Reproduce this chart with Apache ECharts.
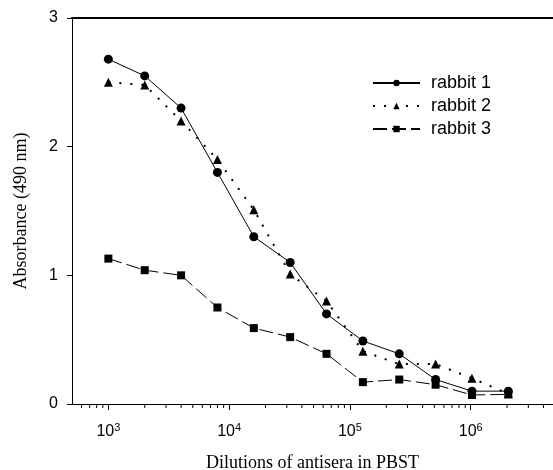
<!DOCTYPE html>
<html>
<head>
<meta charset="utf-8">
<script src="https://cdn.jsdelivr.net/npm/echarts@6/dist/echarts.min.js"></script>
<style>
html,body{margin:0;padding:0;background:#fff;}
#chart{width:553px;height:470px;}
</style>
</head>
<body>
<div id="chart"></div>
<script>
const dilutions = [1000, 2000, 4000, 8000, 16000, 32000, 64000, 128000, 256000, 512000, 1024000, 2048000];
const rabbit1 = [2.68, 2.55, 2.30, 1.80, 1.30, 1.10, 0.70, 0.49, 0.39, 0.19, 0.10, 0.10];
const rabbit2 = [2.50, 2.48, 2.20, 1.90, 1.51, 1.01, 0.80, 0.41, 0.31, 0.31, 0.20, 0.08];
const rabbit3 = [1.13, 1.04, 1.00, 0.75, 0.59, 0.52, 0.39, 0.17, 0.19, 0.15, 0.07, 0.075];
const seriesNames = ['rabbit 1', 'rabbit 2', 'rabbit 3'];
const yTicks = [0, 1, 2, 3];
const majorTicks = [1000, 10000, 100000, 1000000];
const minorTicks = [600, 700, 800, 900,
  2000, 3000, 4000, 5000, 6000, 7000, 8000, 9000,
  20000, 30000, 40000, 50000, 60000, 70000, 80000, 90000,
  200000, 300000, 400000, 500000, 600000, 700000, 800000, 900000,
  2000000, 3000000, 4000000];

const sans = '"Liberation Sans", Arial, sans-serif';
const serif = '"Liberation Serif", "Times New Roman", serif';

function pair(arr) { return dilutions.map((d, i) => [d, arr[i]]); }

const chart = echarts.init(document.getElementById('chart'));
chart.setOption({
  animation: false,
  backgroundColor: '#fff',
  grid: { left: 72, top: 18, right: 0, bottom: 66, containLabel: false, outerBoundsMode: 'none' },
  legend: {
    orient: 'vertical',
    left: 372,
    top: 74,
    padding: 0,
    itemWidth: 47,
    itemHeight: 8,
    itemGap: 5,
    data: seriesNames,
    textStyle: { fontFamily: sans, fontSize: 18, lineHeight: 18, color: '#000', padding: [0, 0, 0, 6] }
  },
  xAxis: [{
    type: 'log',
    logBase: 10,
    min: 500,
    max: 4800000,
    name: 'Dilutions of antisera in PBST',
    nameLocation: 'middle',
    nameGap: 50,
    nameTextStyle: { fontFamily: serif, fontSize: 18, color: '#000' },
    axisLine: { lineStyle: { color: '#000', width: 1 } },
    axisTick: { show: true, inside: false, length: 6, lineStyle: { color: '#000' } },
    splitLine: { show: false },
    axisLabel: {
      margin: 18,
      fontFamily: sans, fontSize: 16, color: '#000',
      showMinLabel: false, showMaxLabel: false,
      formatter: function (v) {
        const e = Math.round(Math.log10(v));
        const idx = majorTicks.findIndex(t => Math.abs(t - v) / t < 1e-6);
        if (idx < 0) return '';
        return '10{s|' + e + '}';
      },
      rich: { s: { fontFamily: sans, fontSize: 11, color: '#000', verticalAlign: 'top', padding: [0, 0, 9, 0] } }
    }
  }, {
    type: 'log',
    logBase: 10,
    min: 500,
    max: 4800000,
    position: 'top',
    axisLine: { lineStyle: { color: '#000', width: 2 } },
    axisTick: { show: false },
    axisLabel: { show: false },
    splitLine: { show: false }
  }],
  yAxis: {
    type: 'value',
    min: yTicks[0],
    max: yTicks[yTicks.length - 1],
    interval: 1,
    name: 'Absorbance (490 nm)',
    nameLocation: 'middle',
    nameGap: 42,
    nameTextStyle: { fontFamily: serif, fontSize: 18, color: '#000' },
    axisLine: { show: true, lineStyle: { color: '#000', width: 1 } },
    axisTick: { show: true, inside: false, length: 5, lineStyle: { color: '#000' } },
    splitLine: { show: false },
    axisLabel: { margin: 14, fontFamily: sans, fontSize: 16, color: '#000' }
  },
  series: [
    {
      name: 'rabbit 1', type: 'line', data: pair(rabbit1), z: 4,
      symbol: 'circle', symbolSize: 9,
      lineStyle: { color: '#000', width: 1, type: 'solid' },
      itemStyle: { color: '#000' }
    },
    {
      name: 'rabbit 2', type: 'line', data: pair(rabbit2), z: 3,
      symbol: 'triangle', symbolSize: 9,
      lineStyle: { color: '#000', width: 2, type: [2, 9] },
      itemStyle: { color: '#000' }
    },
    {
      name: 'rabbit 3', type: 'line', data: pair(rabbit3), z: 3,
      symbol: 'rect', symbolSize: 8,
      lineStyle: { color: '#000', width: 1, type: [14, 5] },
      itemStyle: { color: '#000' }
    },
    {
      name: 'minor', type: 'custom', data: minorTicks.map(v => [v, 0]), silent: true, clip: false,
      renderItem: function (params, api) {
        const p = api.coord([api.value(0), 0]);
        return { type: 'line', shape: { x1: p[0], y1: p[1], x2: p[0], y2: p[1] + 4 }, style: { stroke: '#000', lineWidth: 1 } };
      }
    }
  ]
});
</script>
</body>
</html>
